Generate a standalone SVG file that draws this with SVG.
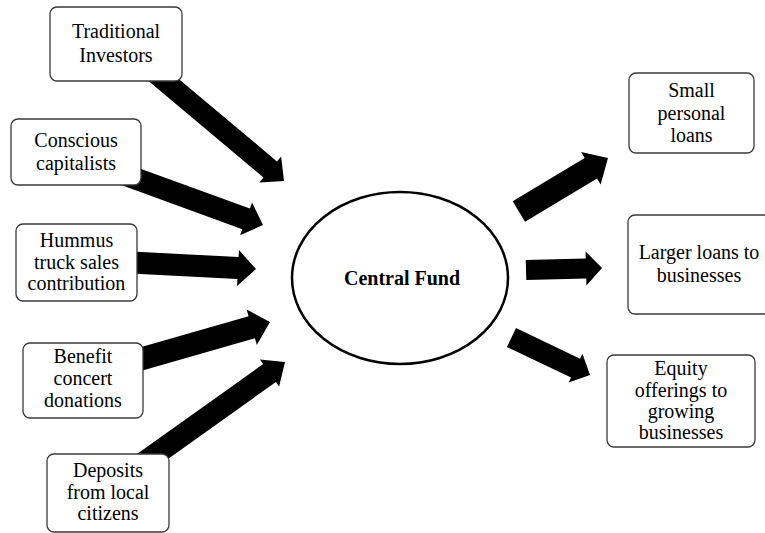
<svg xmlns="http://www.w3.org/2000/svg" width="765" height="533" viewBox="0 0 765 533">
<style>
.box{fill:#fff;stroke:#3a3a3a;stroke-width:1.3}
.t{font-family:"Liberation Serif","Tinos","Times New Roman","Nimbus Roman","DejaVu Serif",serif;font-size:20px;fill:#000;text-anchor:middle}
.b{font-weight:bold}
.arr{fill:#000}
</style>
<rect width="765" height="533" fill="#fff"/>
<g id="connectors">
<polygon class="arr" transform="translate(284,181) rotate(40)" points="0,0 -18,17 -18,10.5 -170,10.5 -170,-10.5 -18,-10.5 -18,-17"/>
<polygon class="arr" transform="translate(263,225) rotate(20)" points="0,0 -18,17.5 -18,11 -160,11 -160,-11 -18,-11 -18,-17.5"/>
<polygon class="arr" transform="translate(256,269) rotate(3)" points="0,0 -18,18 -18,11 -125,11 -125,-11 -18,-11 -18,-18"/>
<polygon class="arr" transform="translate(270,322) rotate(-16)" points="0,0 -19,18.5 -19,11.5 -145,11.5 -145,-11.5 -19,-11.5 -19,-18.5"/>
<polygon class="arr" transform="translate(285,362) rotate(-35.5)" points="0,0 -19,16.5 -19,11 -180,11 -180,-11 -19,-11 -19,-16.5"/>
<polygon class="arr" transform="translate(608,158) rotate(-31)" points="0,0 -20,19 -20,12 -104,12 -104,-12 -20,-12 -20,-19"/>
<polygon class="arr" transform="translate(602,268) rotate(-1.5)" points="0,0 -16,17 -16,10 -76,10 -76,-10 -16,-10 -16,-17"/>
<polygon class="arr" transform="translate(590,375) rotate(25.5)" points="0,0 -16,16 -16,10.5 -87,10.5 -87,-10.5 -16,-10.5 -16,-16"/>
</g>
<g id="traditional">
<rect class="box" x="50" y="7" width="132" height="74" rx="7"/>
<text class="t" x="116" y="38">Traditional</text>
<text class="t" x="116" y="62">Investors</text>
</g>
<g id="conscious">
<rect class="box" x="11" y="119" width="130" height="66" rx="7"/>
<text class="t" x="76" y="147">Conscious</text>
<text class="t" x="76" y="170">capitalists</text>
</g>
<g id="hummus">
<rect class="box" x="16" y="224" width="121" height="77" rx="7"/>
<text class="t" x="76.5" y="247">Hummus</text>
<text class="t" x="76.5" y="268.5">truck sales</text>
<text class="t" x="76.5" y="290">contribution</text>
</g>
<g id="benefit">
<rect class="box" x="23" y="343" width="120" height="75" rx="7"/>
<text class="t" x="83" y="363">Benefit</text>
<text class="t" x="83" y="385">concert</text>
<text class="t" x="83" y="407">donations</text>
</g>
<g id="deposits">
<rect class="box" x="47" y="454" width="122" height="78" rx="7"/>
<text class="t" x="108" y="477">Deposits</text>
<text class="t" x="108" y="499">from local</text>
<text class="t" x="108" y="520">citizens</text>
</g>
<g id="central">
<ellipse cx="400" cy="278" rx="108" ry="86" fill="#fff" stroke="#000" stroke-width="2.5"/>
<text class="t b" x="402" y="285">Central Fund</text>
</g>
<g id="small">
<rect class="box" x="629" y="73" width="125" height="80" rx="7"/>
<text class="t" x="691.5" y="97">Small</text>
<text class="t" x="691.5" y="120">personal</text>
<text class="t" x="691.5" y="142">loans</text>
</g>
<g id="larger">
<rect class="box" x="628" y="215" width="142" height="99" rx="7"/>
<text class="t" x="699" y="259">Larger loans to</text>
<text class="t" x="699" y="282">businesses</text>
</g>
<g id="equity">
<rect class="box" x="607" y="355" width="148" height="92" rx="7"/>
<text class="t" x="681" y="375">Equity</text>
<text class="t" x="681" y="396.5">offerings to</text>
<text class="t" x="681" y="417.5">growing</text>
<text class="t" x="681" y="438.5">businesses</text>
</g>
</svg>
